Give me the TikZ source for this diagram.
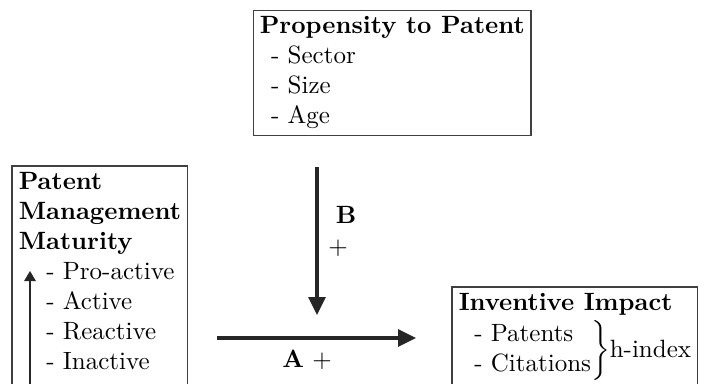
\documentclass[tikz,border=0pt]{standalone}
\usepackage{amsmath}
\usetikzlibrary{arrows.meta,positioning,fit}

\begin{document}
\begin{tikzpicture}[x=0.4pt, y=-0.4pt,
  box/.style={draw=black!75, line width=0.45pt},
  txt/.style={align=left, anchor=north west, inner sep=2.5pt},
  flow/.style={line width=1.3pt, draw=black!85, -{Triangle[length=7.2pt,width=6.8pt]}},
  rank/.style={line width=0.6pt, draw=black!85, -{Triangle[length=4pt,width=4.6pt]}},
  lbl/.style={font=\bfseries}
]
\useasboundingbox (0,0) rectangle (704,383);
\clip (0,0) rectangle (704,383);

% ======= Propensity to Patent =======
\node[txt, box] (prop) at (253,10)
  {\textbf{Propensity to Patent}\\\hspace*{4.5pt}- Sector\\\hspace*{4.5pt}- Size\\\hspace*{4.5pt}- Age};

% ======= Patent Management Maturity =======
\node[txt] (mattxt) at (12,166)
  {\textbf{Patent}\\\textbf{Management}\\\textbf{Maturity}\\
   \hspace*{11pt}- Pro-active\\\hspace*{11pt}- Active\\\hspace*{11pt}- Reactive\\\hspace*{11pt}- Inactive};
\coordinate (matend) at (12,400);
\node[box, fit=(mattxt)(matend), inner sep=0pt] (mat) {};

% ======= Inventive Impact =======
\node[txt] (imptxt) at (452,287)
  {\textbf{Inventive Impact}\\[1pt]
   $\left.\begin{array}{@{\hspace{5pt}}l@{}}\text{- Patents}\\\text{- Citations}\end{array}\right\}$h-index};
\coordinate (impend) at (452,400);
\node[box, fit=(imptxt)(impend), inner sep=0pt] (imp) {};

% ======= arrows =======
\coordinate (rlow) at (30,400);
\coordinate (rhigh) at (30,271);
\draw[rank] (rlow) -- (rhigh);

\coordinate (bstart) at (317,167);
\coordinate (bend) at (317,315);
\draw[flow] (bstart) -- (bend);
\node[lbl, anchor=base west] (blbl) at (327,223) {B};
\node (bplus) at (338,248) {$+$};

\coordinate (astart) at (217,338);
\coordinate (aend) at (416,338);
\draw[flow] (astart) -- (aend);
\node[anchor=base] (albl) at (307,367) {\textbf{A} $+$};

\end{tikzpicture}
\end{document}
